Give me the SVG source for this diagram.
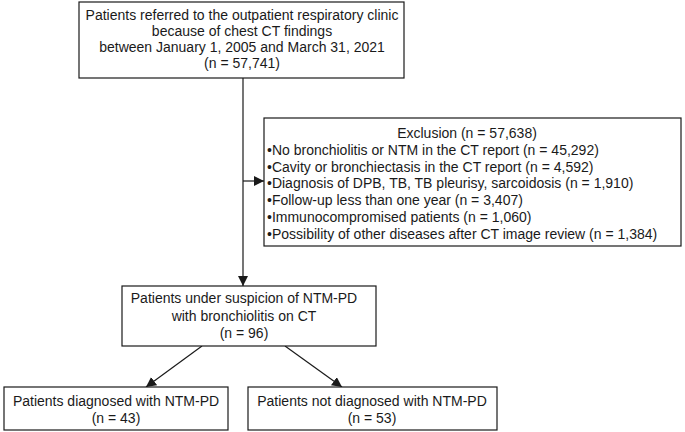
<svg xmlns="http://www.w3.org/2000/svg" width="685" height="432" viewBox="0 0 685 432">
<style>
.box{fill:#fff;stroke:#1a1a1a;stroke-width:1.2}
text{font-family:"Liberation Sans",Arial,sans-serif;font-size:14px;fill:#1a1a1a}
.c{text-anchor:middle}
.ln{stroke:#1a1a1a;stroke-width:1.2;fill:none}
</style>
<defs>
<marker id="ah" viewBox="0 0 10 10" refX="10" refY="5" markerWidth="10" markerHeight="10" markerUnits="userSpaceOnUse" orient="auto">
<path d="M0,0 L10,5 L0,10 z" fill="#1a1a1a"/>
</marker>
</defs>
<rect width="685" height="432" fill="#fff"/>
<g id="connectors">
<line class="ln" x1="243" y1="78" x2="243" y2="286" marker-end="url(#ah)"/>
<line class="ln" x1="243" y1="181" x2="264" y2="181" marker-end="url(#ah)"/>
<line class="ln" x1="202" y1="346" x2="146" y2="387" marker-end="url(#ah)"/>
<line class="ln" x1="285" y1="346" x2="342" y2="387" marker-end="url(#ah)"/>
</g>
<g id="referred">
<rect class="box" x="79" y="2" width="325" height="76"/>
<text class="c" x="242" y="20">Patients referred to the outpatient respiratory clinic</text>
<text class="c" x="242" y="36">because of chest CT findings</text>
<text class="c" x="242" y="52">between January 1, 2005 and March 31, 2021</text>
<text class="c" x="242" y="67.5">(n = 57,741)</text>
</g>
<g id="exclusion">
<rect class="box" x="264" y="118" width="417" height="128"/>
<text class="c" x="467" y="138">Exclusion (n = 57,638)</text>
<text x="267" y="154.8">•No bronchiolitis or NTM in the CT report (n = 45,292)</text>
<text x="267" y="171.6">•Cavity or bronchiectasis in the CT report (n = 4,592)</text>
<text x="267" y="188.4">•Diagnosis of DPB, TB, TB pleurisy, sarcoidosis (n = 1,910)</text>
<text x="267" y="205.2">•Follow-up less than one year (n = 3,407)</text>
<text x="267" y="222">•Immunocompromised patients (n = 1,060)</text>
<text x="267" y="238.8">•Possibility of other diseases after CT image review (n = 1,384)</text>
</g>
<g id="suspicion">
<rect class="box" x="122" y="286" width="254" height="60"/>
<text class="c" x="244" y="303">Patients under suspicion of NTM-PD</text>
<text class="c" x="244" y="321">with bronchiolitis on CT</text>
<text class="c" x="244" y="338">(n = 96)</text>
</g>
<g id="diagnosed">
<rect class="box" x="4" y="387" width="224" height="43"/>
<text class="c" x="116" y="406">Patients diagnosed with NTM-PD</text>
<text class="c" x="116" y="423">(n = 43)</text>
</g>
<g id="notdiagnosed">
<rect class="box" x="248" y="387" width="249" height="43"/>
<text class="c" x="372" y="406">Patients not diagnosed with NTM-PD</text>
<text class="c" x="372" y="423">(n = 53)</text>
</g>
</svg>
